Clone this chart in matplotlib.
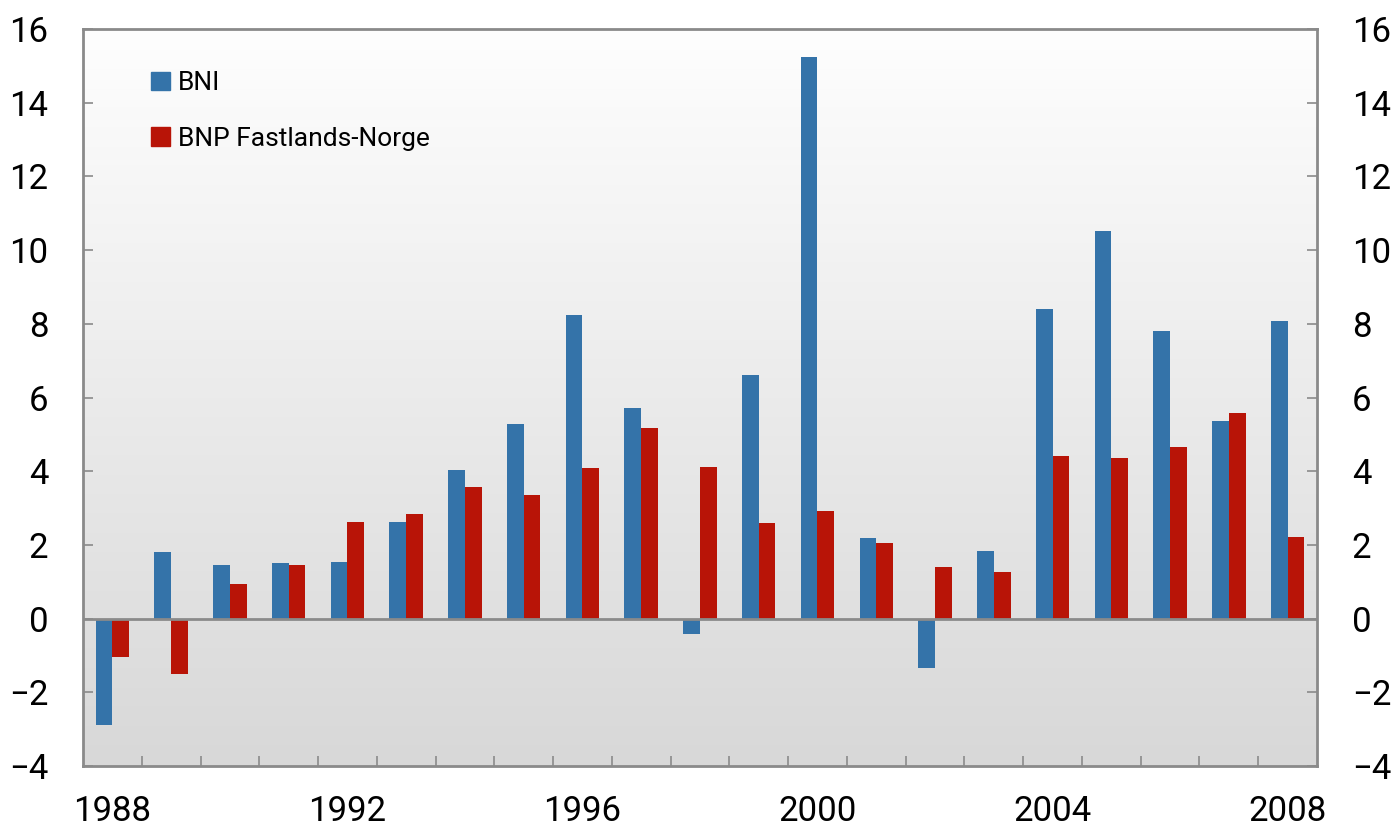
import matplotlib.pyplot as plt
import numpy as np
from matplotlib.patches import Patch

years = list(range(1988, 2009))
bni = [-2.89, 1.81, 1.45, 1.51, 1.54, 2.62, 4.03, 5.28, 8.24, 5.71, -0.42,
       6.61, 15.24, 2.19, -1.34, 1.83, 8.40, 10.52, 7.80, 5.36, 8.07]
bnp = [-1.04, -1.50, 0.94, 1.45, 2.62, 2.84, 3.57, 3.35, 4.09, 5.17, 4.11,
       2.59, 2.92, 2.05, 1.40, 1.26, 4.41, 4.36, 4.66, 5.58, 2.21]
label_years = [1988, 1992, 1996, 2000, 2004, 2008]

blue = '#3473a9'
red = '#b81407'
grey = '#8a8a8a'

plt.rcParams['font.family'] = ['Roboto', 'DejaVu Sans']

fig = plt.figure(figsize=(13.97, 8.30), dpi=100)
ax = fig.add_axes([0.0594, 0.0771, 0.8833, 0.8879])

x = np.arange(len(years))
w = 0.285
ax.bar(x - w / 2, bni, w, color=blue, zorder=3, label='BNI')
ax.bar(x + w / 2, bnp, w, color=red, zorder=3, label='BNP Fastlands-Norge')

ax.set_xlim(-0.5, len(years) - 0.5)
ax.set_ylim(-4, 16)

# background gradient
grad = np.linspace(0, 1, 256).reshape(-1, 1)
ax.imshow(grad, extent=[-0.5, len(years) - 0.5, -4, 16], aspect='auto',
          cmap=plt.matplotlib.colors.LinearSegmentedColormap.from_list(
              'bg', ['#d8d8d8', '#fefefe']), origin='lower', zorder=0)

ax.axhline(0, color=grey, lw=2, zorder=4)

for s in ax.spines.values():
    s.set_color(grey)
    s.set_linewidth(2)

ax.set_yticks(range(-4, 17, 2))
ax.tick_params(axis='y', direction='in', length=7, width=1.2, color=grey,
               labelsize=25, pad=25, left=True, right=True,
               labelleft=True, labelright=True)

ax.set_xticks([years.index(y) for y in label_years])
ax.set_xticklabels([str(y) for y in label_years])
ax.set_xticks(np.arange(0.5, len(years) - 1, 1), minor=True)
ax.tick_params(axis='x', which='major', length=0, labelsize=25, pad=21)
ax.tick_params(axis='x', which='minor', direction='in', length=7, width=1.2,
               color=grey)

handles = [Patch(color=blue, label='BNI'),
           Patch(color=red, label='BNP Fastlands-Norge')]
ax.legend(handles=handles, loc='upper left', bbox_to_anchor=(0.036, 0.975),
          frameon=False, fontsize=19, handlelength=0.7, handleheight=0.7,
          handletextpad=0.3, labelspacing=1.2)

fig.savefig('out.png', dpi=100)
